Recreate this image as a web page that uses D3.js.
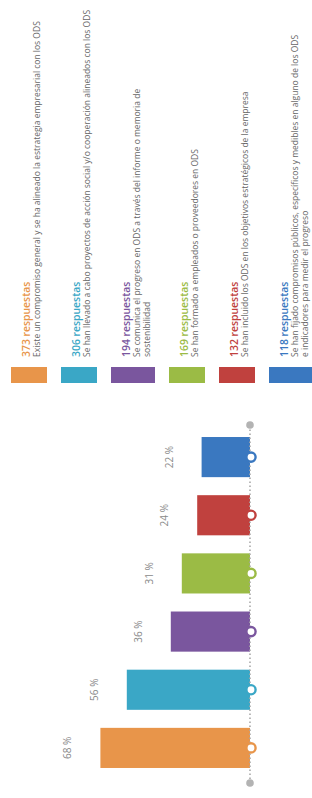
<!doctype html>
<html>
    <head>
        <meta charset="utf-8">
        <title>Compromiso con los ODS</title>
        <style>
            body {
                margin: 0;
                overflow: hidden;
                background: #fff;
            }
            text {
                font-family: "Open Sans", sans-serif;
            }
        </style>
    </head>
    <body>
        <script src="https://cdn.jsdelivr.net/npm/d3@7"></script>
        <script type="module">

            // data
            const counts = [373, 306, 194, 169, 132, 118];
            const percents = [68, 56, 36, 31, 24, 22];
            const descriptions = [
                ['Existe un compromiso general y se ha alineado la estrategia empresarial con los ODS'],
                ['Se han llevado a cabo proyectos de acción social y/o cooperación alineados con los ODS'],
                ['Se comunica el progreso en ODS a través del informe o memoria de', 'sostenibilidad'],
                ['Se han formado a empleados o proveedores en ODS'],
                ['Se han incluido los ODS en los objetivos estratégicos de la empresa'],
                ['Se han fijado compromisos públicos, específicos y medibles en alguno de los ODS', 'e indicadores para medir el progreso']
            ];
            const colors = ['#E8954A', '#3AA7C6', '#7A569E', '#9BBB45', '#C0413E', '#3A78C0'];

            const width = 312;
            const height = 798;

            const svg = d3.select('body')
                .append('svg')
                .attr('width', width)
                .attr('height', height);

            // the chart is printed sideways: draw it flat, then turn it
            const g = svg.append('g')
                .attr('transform', `translate(0,${height}) rotate(-90)`);

            const idx = d3.range(counts.length);
            const base = 250;

            const x = d3.scaleBand()
                .domain(idx)
                .range([21, 370])
                .paddingInner(0.31)
                .paddingOuter(0.155);

            const y = d3.scaleLinear()
                .domain([0, 100])
                .range([base, 30]);

            // bars
            g.selectAll('rect.bar')
                .data(idx)
                .join('rect')
                .attr('class', 'bar')
                .attr('x', (i) => x(i))
                .attr('width', x.bandwidth())
                .attr('y', (i) => y(percents[i]))
                .attr('height', (i) => base - y(percents[i]))
                .attr('fill', (i) => colors[i]);

            // value labels
            g.selectAll('text.pct')
                .data(idx)
                .join('text')
                .attr('class', 'pct')
                .attr('x', (i) => x(i) + x.bandwidth() / 2)
                .attr('y', (i) => y(percents[i]) - 29)
                .attr('text-anchor', 'middle')
                .attr('font-size', 10)
                .attr('fill', '#8a8a8a')
                .text((i) => `${percents[i]} %`);

            // dotted baseline
            const [r0, r1] = x.range();
            g.append('line')
                .attr('x1', r0 - 6)
                .attr('x2', r1 + 3)
                .attr('y1', base)
                .attr('y2', base)
                .attr('stroke', '#a9a9a9')
                .attr('stroke-width', 1.6)
                .attr('stroke-dasharray', '1.5,2.5');

            g.selectAll('circle.end')
                .data([r0 - 6, r1 + 3])
                .join('circle')
                .attr('class', 'end')
                .attr('cx', (d) => d)
                .attr('cy', base)
                .attr('r', 3.8)
                .attr('fill', '#b3b3b3');

            g.selectAll('circle.knob')
                .data(idx)
                .join('circle')
                .attr('class', 'knob')
                .attr('cx', (i) => x(i) + x.bandwidth() / 2)
                .attr('cy', base + 1)
                .attr('r', 4.6)
                .attr('fill', '#fff')
                .attr('stroke', (i) => colors[i])
                .attr('stroke-width', 2.4);

            // legend
            const legendX = 415;
            let legTop = 11;
            const items = idx.map((i) => {
                const sw = descriptions[i].length > 1 ? 44 : 36;
                const it = { i, top: legTop, sw };
                legTop += sw + 14;
                return it;
            });

            const leg = g.selectAll('g.leg')
                .data(items)
                .join('g')
                .attr('class', 'leg')
                .attr('transform', (d) => `translate(${legendX},${d.top})`);

            leg.append('rect')
                .attr('width', 16)
                .attr('height', (d) => d.sw)
                .attr('fill', (d) => colors[d.i]);

            leg.append('text')
                .attr('x', 26)
                .attr('y', 19)
                .attr('font-size', 10.4)
                .attr('font-weight', 600)
                .attr('fill', (d) => colors[d.i])
                .text((d) => `${counts[d.i]} respuestas`);

            leg.each(function (d) {
                d3.select(this).selectAll('text.desc')
                    .data(descriptions[d.i])
                    .join('text')
                    .attr('class', 'desc')
                    .attr('x', 26)
                    .attr('y', (s, k) => 29 + k * 10)
                    .attr('font-size', 8.5)
                    .attr('fill', '#666')
                    .text((s) => s);
            });

        </script>
    </body>
</html>
